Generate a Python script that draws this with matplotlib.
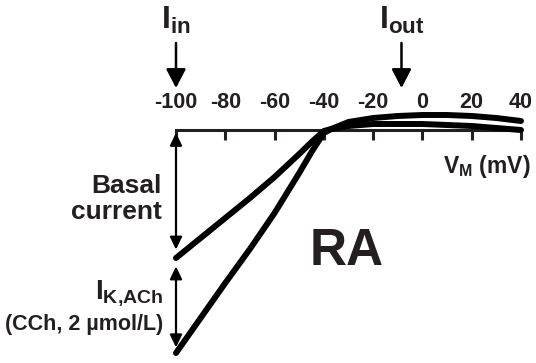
import matplotlib
matplotlib.use("Agg")
import matplotlib.pyplot as plt

plt.rcParams['font.family'] = 'Liberation Sans'
plt.rcParams['font.weight'] = 'bold'
plt.rcParams['mathtext.fontset'] = 'custom'
plt.rcParams['mathtext.bf'] = 'Liberation Sans:bold'
plt.rcParams['mathtext.rm'] = 'Liberation Sans:bold'
plt.rcParams['mathtext.it'] = 'Liberation Sans:bold'
plt.rcParams['mathtext.default'] = 'bf'

INK = "#231f20"

# membrane potential (mV) and current (arbitrary units, inward negative)
vm = [-100, -90, -80, -70, -60, -50, -45, -40, -37, -35, -30, -25, -20, -10, 0, 10, 20, 30, 40]
basal = [-1.28, -1.08, -0.88, -0.68, -0.47, -0.24, -0.12, -0.01, 0.01, 0.02, 0.04, 0.05,
         0.06, 0.06, 0.06, 0.05, 0.04, 0.02, 0.0]
cch = [-2.23, -1.88, -1.53, -1.19, -0.83, -0.43, -0.22, -0.03, 0.01, 0.03, 0.08, 0.10,
       0.12, 0.14, 0.15, 0.15, 0.14, 0.12, 0.09]
ticks = [-100, -80, -60, -40, -20, 0, 20, 40]
v_in = -100
v_out = -8.5

W, H = 536, 363
fig = plt.figure(figsize=(W / 100, H / 100), dpi=100)
ax = fig.add_axes([176 / W, 0, 345 / W, 1])
ax.set_xlim(-100, 40)
ax.set_ylim(-2.33, 1.30)

ax.plot(vm, basal, color="black", lw=4.3, solid_capstyle="round", clip_on=False, zorder=3)
ax.plot(vm, cch, color="black", lw=4.3, solid_capstyle="round", clip_on=False, zorder=3)

for s in ["left", "right", "top"]:
    ax.spines[s].set_visible(False)
ax.spines["bottom"].set_position(("data", 0))
ax.spines["bottom"].set_linewidth(2.2)
ax.spines["bottom"].set_color(INK)
ax.set_yticks([])
ax.set_xticks(ticks)
ax.set_xticklabels([str(t) for t in ticks])
ax.tick_params(axis="x", direction="out", length=7, width=2.2, color=INK,
               pad=-34, labelsize=15.5, labelcolor=INK)


def fy(y):
    return 1 - y / H


# I_in / I_out markers
for v, lab in [(v_in, r"$I_{in}$"), (v_out, r"$I_{out}$")]:
    ax.annotate("", xy=(v, fy(88)), xycoords=("data", "figure fraction"),
                xytext=(v, fy(43)), textcoords=("data", "figure fraction"),
                arrowprops=dict(arrowstyle="-|>,head_length=1.15,head_width=0.6",
                                lw=1.8, color="black", shrinkA=0, shrinkB=0))
    ax.annotate(lab, xy=(v, fy(29)), xycoords=("data", "figure fraction"),
                ha="center", va="baseline", fontsize=23, color=INK)

# double arrows at -100 mV
dstyle = "<|-|>,head_length=0.75,head_width=0.36"
ax.annotate("", xy=(vm[0], basal[0]), xytext=(vm[0], 0),
            arrowprops=dict(arrowstyle=dstyle, lw=1.6, color="black", shrinkA=2, shrinkB=6))
ax.annotate("", xy=(vm[0], cch[0]), xytext=(vm[0], basal[0]),
            arrowprops=dict(arrowstyle=dstyle, lw=1.6, color="black", shrinkA=6, shrinkB=4))

fig.text(162 / W, fy(199), "Basal\ncurrent", ha="right", va="center",
         multialignment="right", fontsize=19, color=INK, linespacing=1.1)
fig.text(163 / W, fy(298), r"$I_{K{,}ACh}$", ha="right", va="baseline", fontsize=20, color=INK)
fig.text(163 / W, fy(330), "(CCh, 2 µmol/L)", ha="right", va="baseline", fontsize=15.5, color=INK)
fig.text(531 / W, fy(173), r"$V_{M}$ (mV)", ha="right", va="baseline", fontsize=16.5, color=INK)
fig.text(347 / W, fy(265), "RA", ha="center", va="baseline", fontsize=37, color=INK)

fig.savefig("out.png", dpi=100)
